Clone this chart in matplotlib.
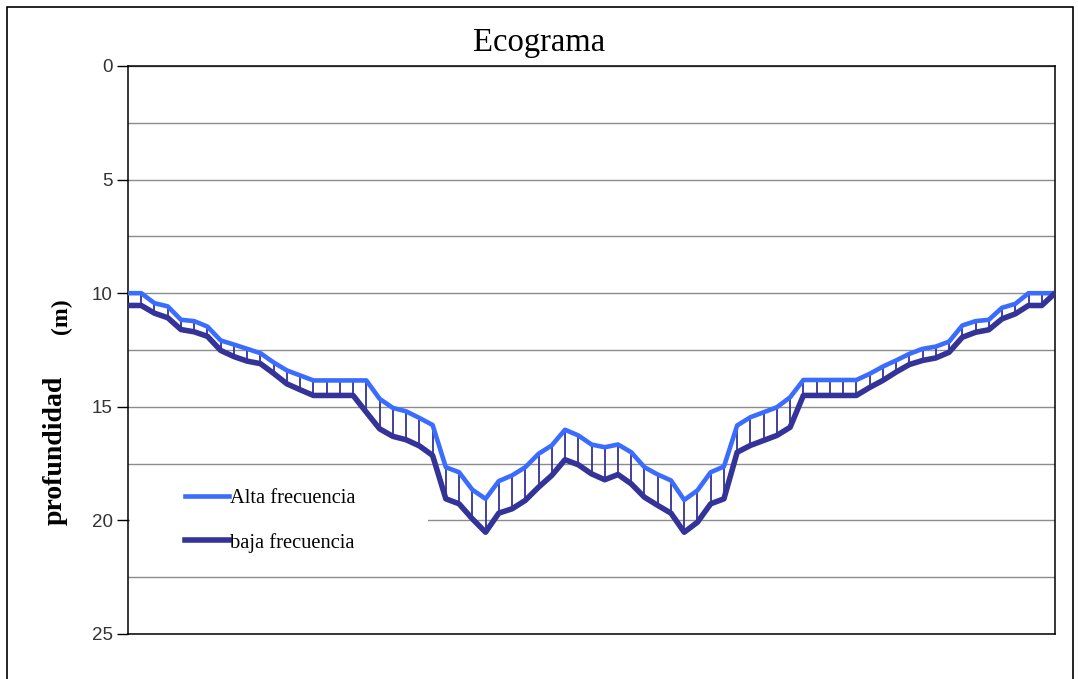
import matplotlib
matplotlib.use("Agg")
import matplotlib.pyplot as plt
import numpy as np
from matplotlib.patches import Rectangle

# profundidad (m) medida en cada punto del perfil
alta = [
    10.0, 10.0, 10.44, 10.58, 11.17, 11.23, 11.47, 12.08, 12.26, 12.45,
    12.64, 13.05, 13.4, 13.62, 13.84, 13.84, 13.84, 13.84, 13.84, 14.65,
    15.05, 15.2, 15.49, 15.8, 17.66, 17.88, 18.65, 19.05, 18.27, 18.02,
    17.66, 17.07, 16.7, 16.01, 16.26, 16.66, 16.78, 16.66, 17.0, 17.66,
    17.98, 18.24, 19.1, 18.68, 17.88, 17.63, 15.82, 15.46, 15.24, 15.02,
    14.58, 13.82, 13.82, 13.82, 13.82, 13.82, 13.55, 13.23, 12.96, 12.67,
    12.45, 12.35, 12.13, 11.42, 11.23, 11.17, 10.64, 10.47, 10.0, 10.0,
    10.0,
]
baja = [
    10.54, 10.54, 10.88, 11.08, 11.6, 11.7, 11.9, 12.52, 12.79, 12.99,
    13.1, 13.53, 13.99, 14.25, 14.5, 14.5, 14.5, 14.5, 15.24, 15.97,
    16.3, 16.45, 16.72, 17.14, 19.05, 19.27, 19.93, 20.52, 19.68, 19.49,
    19.12, 18.54, 18.02, 17.33, 17.55, 17.95, 18.21, 17.98, 18.39, 18.98,
    19.34, 19.68, 20.52, 20.08, 19.27, 19.05, 17.0, 16.7, 16.48, 16.26,
    15.9, 14.5, 14.5, 14.5, 14.5, 14.5, 14.15, 13.84, 13.47, 13.14,
    12.96, 12.85, 12.6, 11.94, 11.72, 11.61, 11.13, 10.91, 10.54, 10.54,
    10.0,
]
series_names = ["Alta frecuencia", "baja frecuencia"]
yticks = [0, 5, 10, 15, 20, 25]

x = np.arange(len(alta))
light = "#3a6cff"
dark = "#333399"
serif = ["Liberation Serif", "DejaVu Serif"]
sans = ["Liberation Sans", "DejaVu Sans"]

fig = plt.figure(figsize=(10.78, 6.79), dpi=100)
ax = fig.add_axes([128 / 1078, 1 - 634 / 679, 927 / 1078, 568 / 679])

ax.vlines(x, alta, baja, color=dark, lw=1.3, zorder=2)
ax.plot(x, alta, color=light, lw=3.3, zorder=3, solid_joinstyle="round",
        label=series_names[0])
ax.plot(x, baja, color=dark, lw=4.0, zorder=3, solid_joinstyle="round",
        label=series_names[1])

ax.set_xlim(0, len(alta) - 1)
ax.set_ylim(25, 0)
ax.set_xticks([])
ax.set_yticks(yticks)
ax.set_yticks(np.arange(2.5, 25, 5), minor=True)
ax.yaxis.grid(True, which="both", color="#8c8c8c", lw=1.0)
ax.set_axisbelow(True)
ax.tick_params(axis="y", which="major", direction="out", length=8, width=1,
               pad=3, labelsize=13.5, labelcolor="#333333")
ax.tick_params(axis="y", which="minor", length=0)
for lab in ax.get_yticklabels():
    lab.set_fontfamily(sans)
for s in ax.spines.values():
    s.set_color("black")
    s.set_linewidth(1.1)

# blank area behind the legend (hides the gridline there)
ax.add_patch(Rectangle((0.002, 0.13), 0.322, 0.158, transform=ax.transAxes,
                       facecolor="white", edgecolor="none", zorder=1))
leg = ax.legend(loc="upper left", bbox_to_anchor=(0.061, 0.256),
                frameon=False, borderpad=0, borderaxespad=0,
                handlelength=2.15, handletextpad=0.05, labelspacing=1.2,
                prop={"family": serif, "size": 14.8})

fig.text(0.5, 1 - 43 / 679, "Ecograma", ha="center", va="center",
         fontsize=23.5, fontfamily=serif)
fig.text(55 / 1078, 1 - 450 / 679, "profundidad", rotation=90,
         ha="center", va="center", fontsize=20, fontfamily=serif,
         fontweight="bold")
fig.text(61 / 1078, 1 - 316 / 679, "(m)", rotation=90,
         ha="center", va="center", fontsize=17, fontfamily=serif,
         fontweight="bold")

fig.add_artist(Rectangle((7 / 1078, -0.05), 1066 / 1078, 1.05 - 7 / 679,
                         transform=fig.transFigure, facecolor="none",
                         edgecolor="black", lw=1.2))

fig.savefig("out.png", dpi=100)
